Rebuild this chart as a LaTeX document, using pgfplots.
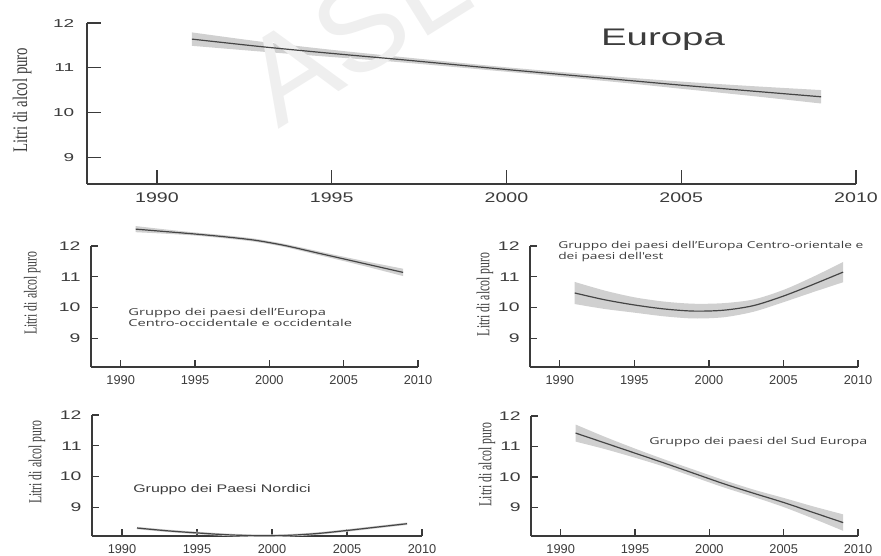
\documentclass[border=0pt]{standalone}
\usepackage{pgfplots}
\usepackage{pgfplotstable}
\pgfplotsset{compat=1.18}
\usepgfplotslibrary{fillbetween}
\usepackage{fontspec}
\setmainfont{Liberation Sans}
\newfontfamily\tnr{Liberation Serif}
\newfontfamily\osans{Open Sans}
\definecolor{axc}{HTML}{3A3A3A}
\definecolor{txc}{HTML}{3C3C3C}
\definecolor{linec}{HTML}{454545}
\definecolor{bandc}{HTML}{D0D0D0}
\definecolor{wmc}{HTML}{EFEFEF}

\pgfplotstableread{
x y lo hi
1991 11.64 11.49 11.79
1993 11.47 11.36 11.58
1995 11.32 11.24 11.40
1997 11.18 11.12 11.24
2000 10.96 10.91 11.01
2003 10.75 10.69 10.81
2005 10.61 10.53 10.69
2007 10.48 10.37 10.59
2009 10.35 10.20 10.50
}\dataEU

\pgfplotstableread{
x y lo hi
1991 12.55 12.45 12.65
1993 12.47 12.40 12.54
1995 12.39 12.34 12.44
1997 12.30 12.25 12.35
1999 12.19 12.14 12.24
2001 12.02 11.97 12.07
2003 11.80 11.74 11.86
2005 11.58 11.51 11.65
2007 11.36 11.27 11.45
2009 11.14 11.02 11.26
}\dataA

\pgfplotstableread{
x y lo hi
1991 10.47 10.11 10.83
1993 10.25 9.95 10.55
1995 10.08 9.83 10.33
1997 9.95 9.71 10.19
1999 9.88 9.64 10.12
2001 9.91 9.68 10.14
2003 10.06 9.86 10.26
2005 10.37 10.17 10.57
2007 10.75 10.50 11.00
2009 11.15 10.82 11.48
}\dataB

\pgfplotstableread{
x y lo hi
1991 8.32 8.28 8.36
1993 8.23 8.19 8.27
1995 8.16 8.12 8.20
1997 8.10 8.06 8.14
1999 8.07 8.03 8.11
2001 8.08 8.04 8.12
2003 8.14 8.10 8.18
2005 8.24 8.20 8.28
2007 8.35 8.31 8.39
2009 8.46 8.42 8.50
}\dataC

\pgfplotstableread{
x y lo hi
1991 11.44 11.16 11.72
1993 11.11 10.91 11.31
1995 10.78 10.63 10.93
1997 10.45 10.33 10.57
1999 10.11 9.99 10.23
2001 9.77 9.65 9.89
2003 9.46 9.34 9.58
2005 9.16 9.01 9.31
2007 8.83 8.63 9.03
2009 8.50 8.23 8.77
}\dataD

\pgfplotsset{
  base/.style={
    scale only axis, anchor=south west, clip=false,
    axis lines=left, axis line style={-, line width=1.4pt, axc},
    tick align=inside, tick style={line width=1.2pt, axc},
    xmin=1988, xmax=2010, xtick={1990,1995,2000,2005,2010},
    ytick={9,10,11,12}, minor tick num=0,
    /pgf/number format/1000 sep={},
    /pgf/number format/assume math mode=true,
    ticklabel style={text=txc},
  },
  big/.style={base, major tick length=14pt,
    xticklabel style={font=\fontsize{14}{14}\selectfont, yshift=-5pt, xscale=1.4},
    yticklabel style={font=\fontsize{11.5}{12}\selectfont, xshift=-7pt, xscale=1.65},
    ylabel style={font=\tnr\fontsize{14.8}{15}\selectfont, text=txc, anchor=center},
  },
  small/.style={base, major tick length=7pt,
    width=327pt, height=121pt, ymin=8.06, ymax=12,
    xticklabel style={font=\fontsize{12.8}{13}\selectfont, yshift=-5pt},
    yticklabel style={font=\fontsize{12.5}{13}\selectfont, xshift=-5pt, xscale=1.55},
    ylabel style={font=\tnr\fontsize{11.8}{12}\selectfont, text=txc, anchor=center},
  },
  bandplot/.style={bandc, draw=none},
  lineplot/.style={linec, line width=1.2pt, smooth, no markers},
}

\begin{document}
\begin{tikzpicture}
\node[wmc, font=\fontsize{125}{125}\selectfont, rotate=32, anchor=base west, inner sep=0pt] at (278pt,425pt) {ASL};

% Europa
\begin{axis}[big, at={(87pt,371pt)}, width=769pt, height=161pt, ymin=8.4, ymax=12,
  ylabel={\scalebox{1}[1.4]{Litri di alcol puro}},
  ylabel style={at={(axis description cs:-0.0845,0.52)}}]
\addplot[name path=hiE, draw=none, smooth] table[x=x,y=hi]{\dataEU};
\addplot[name path=loE, draw=none, smooth] table[x=x,y=lo]{\dataEU};
\addplot[bandplot] fill between[of=hiE and loE];
\addplot[lineplot] table[x=x,y=y]{\dataEU};
\end{axis}

% A
\begin{axis}[small, at={(91pt,188pt)},
  ylabel={\scalebox{1}[1.55]{Litri di alcol puro}},
  ylabel style={at={(axis description cs:-0.18,0.61)}}]
\addplot[name path=hiA, draw=none, smooth] table[x=x,y=hi]{\dataA};
\addplot[name path=loA, draw=none, smooth] table[x=x,y=lo]{\dataA};
\addplot[bandplot] fill between[of=hiA and loA];
\addplot[lineplot] table[x=x,y=y]{\dataA};
\end{axis}

% B
\begin{axis}[small, at={(530pt,188pt)}, width=328pt,
  ylabel={\scalebox{1}[1.55]{Litri di alcol puro}},
  ylabel style={at={(axis description cs:-0.137,0.60)}}]
\addplot[name path=hiB, draw=none, smooth] table[x=x,y=hi]{\dataB};
\addplot[name path=loB, draw=none, smooth] table[x=x,y=lo]{\dataB};
\addplot[bandplot] fill between[of=hiB and loB];
\addplot[lineplot] table[x=x,y=y]{\dataB};
\end{axis}

% C
\begin{axis}[small, at={(92pt,19pt)}, width=330pt,
  ylabel={\scalebox{1}[1.55]{Litri di alcol puro}},
  ylabel style={at={(axis description cs:-0.167,0.61)}}]
\addplot[name path=hiC, draw=none, smooth] table[x=x,y=hi]{\dataC};
\addplot[name path=loC, draw=none, smooth] table[x=x,y=lo]{\dataC};
\addplot[bandplot] fill between[of=hiC and loC];
\addplot[lineplot] table[x=x,y=y]{\dataC};
\end{axis}

% D
\begin{axis}[small, at={(531pt,19pt)}, width=327pt, height=120pt,
  ylabel={\scalebox{1}[1.55]{Litri di alcol puro}},
  ylabel style={at={(axis description cs:-0.135,0.595)}}]
\addplot[name path=hiD, draw=none, smooth] table[x=x,y=hi]{\dataD};
\addplot[name path=loD, draw=none, smooth] table[x=x,y=lo]{\dataD};
\addplot[bandplot] fill between[of=hiD and loD];
\addplot[lineplot] table[x=x,y=y]{\dataD};
\end{axis}

% titles
\node[txc, font=\fontsize{24}{24}\selectfont, xscale=1.6, anchor=base] at (663pt,509pt) {Europa};
\node[txc, anchor=west, align=left, inner sep=0pt, font=\osans\fontsize{9.5}{11}\selectfont, xscale=1.55] at (128pt,237.5pt) {Gruppo dei paesi dell’Europa\\Centro-occidentale e occidentale};
\node[txc, anchor=west, align=left, inner sep=0pt, font=\osans\fontsize{9.5}{11}\selectfont, xscale=1.45] at (558pt,303pt) {Gruppo dei paesi dell’Europa Centro-orientale e\\dei paesi dell'est};
\node[txc, anchor=west, inner sep=0pt, font=\fontsize{11}{12}\selectfont, xscale=1.45] at (133pt,65pt) {Gruppo dei Paesi Nordici};
\node[txc, anchor=west, inner sep=0pt, font=\osans\fontsize{9.5}{11}\selectfont, xscale=1.5] at (649pt,113pt) {Gruppo dei paesi del Sud Europa};

\pgfresetboundingbox
\useasboundingbox (0pt,0pt) rectangle (881pt,555pt);
\end{tikzpicture}
\end{document}
